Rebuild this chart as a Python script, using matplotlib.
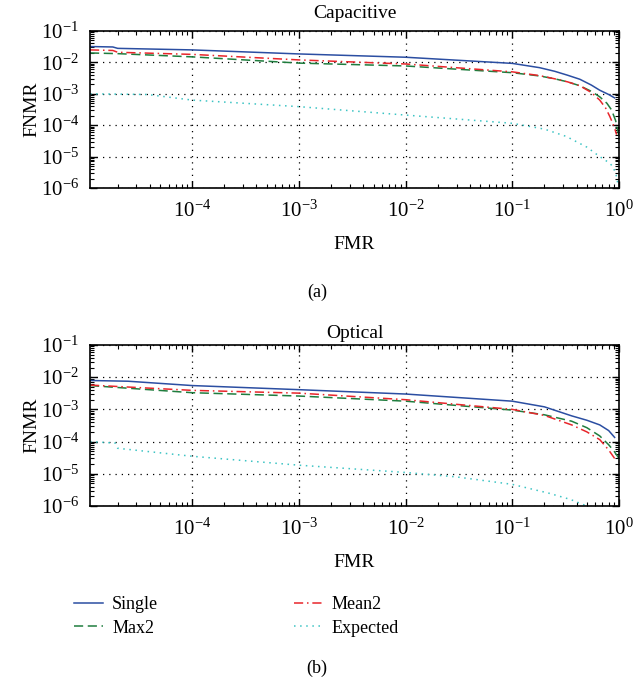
import numpy as np
import matplotlib
matplotlib.use("Agg")
import matplotlib.pyplot as plt
from matplotlib.ticker import LogLocator, NullFormatter

plt.rcParams['font.family'] = ['Liberation Serif', 'DejaVu Serif']
plt.rcParams['mathtext.fontset'] = 'stix'

# ==================== Data ==================== #

# Capacitive
capSingleX = [1.1e-5, 1.8e-5, 2e-5, 1e-4, 1e-3, 1e-2, 0.1, 0.18, 0.25, 0.33, 0.43, 0.55, 0.66, 0.8, 0.91]
capSingleY = [0.032, 0.031, 0.028, 0.025, 0.0186, 0.0146, 0.0093, 0.0068, 0.0052, 0.0039, 0.0029, 0.0019, 0.0013, 0.00095, 0.00074]
capMaxX = [1.1e-5, 2e-5, 1e-4, 1e-3, 1e-2, 0.1, 0.18, 0.25, 0.33, 0.43, 0.55, 0.66, 0.77, 0.85, 0.93, 1.0]
capMaxY = [0.02, 0.019, 0.015, 0.0095, 0.0077, 0.0047, 0.0037, 0.003, 0.0024, 0.0018, 0.0012, 8e-4, 5e-4, 3.1e-4, 1.4e-4, 4.5e-5]
capMeanX = [1.1e-5, 1.8e-5, 2e-5, 1e-4, 1e-3, 1e-2, 0.1, 0.18, 0.25, 0.33, 0.43, 0.55, 0.66, 0.75, 0.82, 0.9, 0.95]
capMeanY = [0.025, 0.024, 0.021, 0.018, 0.012, 0.0089, 0.005, 0.0038, 0.003, 0.0024, 0.0018, 0.0011, 6.3e-4, 3.5e-4, 1.9e-4, 9e-5, 5e-5]
capExpX = [1.1e-5, 3.8e-5, 1e-4, 1e-3, 1e-2, 0.1, 0.2, 0.32, 0.5, 0.66, 0.8, 0.88, 0.95, 0.985]
capExpY = [1e-3, 9.5e-4, 6.3e-4, 3.9e-4, 2.1e-4, 1.15e-4, 7.5e-5, 4.4e-5, 2e-5, 1e-5, 6.5e-6, 4.8e-6, 2.3e-6, 1.1e-6]

# Optical
optSingleX = [1.1e-5, 2.5e-5, 1e-4, 1e-3, 1e-2, 0.1, 0.2, 0.36, 0.5, 0.66, 0.8, 0.91]
optSingleY = [0.0079, 0.0075, 0.0055, 0.0041, 0.003, 0.0018, 0.0012, 6.3e-4, 4.6e-4, 3.3e-4, 2.2e-4, 1.35e-4]
optMaxX = [1.1e-5, 1e-4, 1e-3, 1e-2, 0.1, 0.2, 0.36, 0.5, 0.66, 0.8, 0.9, 1.0]
optMaxY = [0.0055, 0.0033, 0.0026, 0.0018, 0.00095, 6.8e-4, 4.3e-4, 2.7e-4, 1.5e-4, 8e-5, 5e-5, 3e-5]
optMeanX = [1.1e-5, 1e-4, 1e-3, 1e-2, 0.1, 0.2, 0.36, 0.5, 0.66, 0.8, 0.91]
optMeanY = [0.0057, 0.0039, 0.0032, 0.002, 0.001, 6.5e-4, 3.3e-4, 2e-4, 1.15e-4, 5.5e-5, 3e-5]
optExpX = [1.1e-5, 1.9e-5, 2e-5, 1e-4, 1e-3, 1e-2, 0.03, 0.1, 0.22, 0.35, 0.5]
optExpY = [1e-4, 9e-5, 6.2e-5, 3.5e-5, 1.85e-5, 1.1e-5, 8e-6, 4.7e-6, 2.5e-6, 1.6e-6, 1e-6]

labels = ["Single", "Max2", "Mean2", "Expected"]
titles = ["Capacitive", "Optical"]

# ===================== Plotting ======================== #

colors = ['#2b4ea2', '#1f7d3e', '#e8262b', '#3cc4c4']
styles = ['-', (0, (6, 3)), (0, (6, 2.5, 1, 2.5)), (0, (1, 3))]

fig = plt.figure(figsize=(6.34, 6.80), dpi=100)
ax1 = fig.add_axes([90/634, 1 - 188/680, 529/634, 157/680])
ax2 = fig.add_axes([90/634, 1 - 506/680, 529/634, 161/680])

data = [
    [(capSingleX, capSingleY), (capMaxX, capMaxY), (capMeanX, capMeanY), (capExpX, capExpY)],
    [(optSingleX, optSingleY), (optMaxX, optMaxY), (optMeanX, optMeanY), (optExpX, optExpY)],
]

handles = []
for ax, series, title, tpad in zip([ax1, ax2], data, titles, [9, 5]):
    hs = []
    for (x, y), c, ls, lab in zip(series, colors, styles, labels):
        h, = ax.plot(x, y, color=c, linestyle=ls, linewidth=1.1, label=lab)
        hs.append(h)
    handles = hs
    ax.set_xscale('log')
    ax.set_yscale('log')
    ax.set_xlim(1.1e-5, 1)
    ax.set_ylim(1e-6, 1e-1)
    ax.xaxis.set_major_locator(LogLocator(base=10, numticks=10))
    ax.xaxis.set_minor_locator(LogLocator(base=10, subs=np.arange(2, 10), numticks=10))
    ax.yaxis.set_major_locator(LogLocator(base=10, numticks=10))
    ax.yaxis.set_minor_locator(LogLocator(base=10, subs=np.arange(2, 10), numticks=10))
    ax.xaxis.set_minor_formatter(NullFormatter())
    ax.yaxis.set_minor_formatter(NullFormatter())
    ax.tick_params(which='both', direction='in', top=True, right=True, labelsize=15)
    ax.tick_params(axis='y', which='major', pad=8)
    ax.tick_params(axis='x', which='major', pad=9)
    ax.tick_params(which='major', length=5, width=1)
    ax.tick_params(which='minor', length=3, width=0.8)
    ax.grid(which='major', linestyle=(0, (1, 4)), linewidth=0.9, color='black')
    for s in ax.spines.values():
        s.set_linewidth(1.2)
    ax.set_title(title, fontsize=14, pad=tpad)
    ax.set_xlabel("FMR", fontsize=14, labelpad=10)
    ax.set_ylabel("FNMR", fontsize=14, labelpad=0)

fig.text(317/634, 1 - 292/680, "(a)", ha='center', va='center', fontsize=13)
fig.text(317/634, 1 - 668/680, "(b)", ha='center', va='center', fontsize=13)

fig.legend(handles, labels, ncol=2, frameon=False, loc='upper left',
           bbox_to_anchor=(58/634, 1 - 580/680), fontsize=13,
           handlelength=1.6, handletextpad=0.5, columnspacing=7.5, labelspacing=0.35)

fig.savefig("out.png", dpi=100)
